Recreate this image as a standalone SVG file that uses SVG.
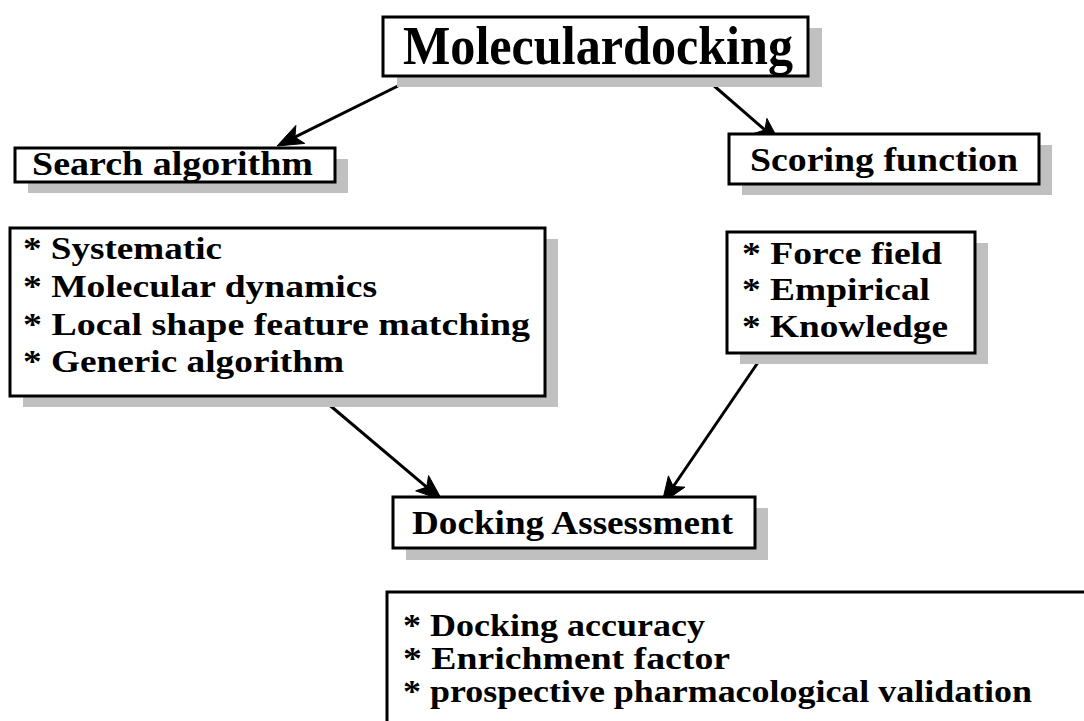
<svg xmlns="http://www.w3.org/2000/svg" width="1084" height="721" viewBox="0 0 1084 721">
<style>
.box{fill:#fff;stroke:#000;stroke-width:3}
.sh{fill:#c0c0c0}
.t{font-family:"Liberation Serif","Times New Roman",serif;font-weight:bold;fill:#000}
.c{stroke:#000;stroke-width:3;fill:none}
.h{fill:#000;stroke:#000;stroke-width:1;stroke-linejoin:miter}
</style>
<g id="connectors">
<line class="c" x1="410" y1="80" x2="294.9" y2="137.1"/>
<polygon class="h" points="277,146 295.85,125.49 294.91,137.11 304.73,143.41"/>
<line class="c" x1="705" y1="78" x2="764.9" y2="129.9"/>
<polygon class="h" points="780,143 753.80,133.53 764.89,129.90 766.90,118.41"/>
<line class="c" x1="320" y1="397" x2="426.7" y2="487.1"/>
<polygon class="h" points="442,500 415.68,490.87 426.72,487.10 428.58,475.59"/>
<line class="c" x1="761" y1="358" x2="673.3" y2="486.5"/>
<polygon class="h" points="662,503 668.40,475.89 673.28,486.48 684.92,487.17"/>
</g>
<g id="molecular-docking">
<rect class="sh" x="397" y="28" width="425" height="59"/>
<rect class="box" x="383" y="17" width="425" height="59"/>
<text class="t" x="403" y="64" font-size="54" textLength="390" lengthAdjust="spacingAndGlyphs">Moleculardocking</text>
</g>
<g id="search-algorithm">
<rect class="sh" x="28" y="159" width="320" height="34"/>
<rect class="box" x="15" y="148" width="320" height="34"/>
<text class="t" x="32" y="175" font-size="34" textLength="281" lengthAdjust="spacingAndGlyphs">Search algorithm</text>
</g>
<g id="scoring-function">
<rect class="sh" x="742" y="145" width="310" height="50"/>
<rect class="box" x="729" y="134" width="310" height="50"/>
<text class="t" x="750" y="171" font-size="34" textLength="268" lengthAdjust="spacingAndGlyphs">Scoring function</text>
</g>
<g id="search-methods">
<rect class="sh" x="23" y="239" width="535" height="168"/>
<rect class="box" x="10" y="228" width="535" height="168"/>
<text class="t" x="23" y="259" font-size="32" textLength="199" lengthAdjust="spacingAndGlyphs">* Systematic</text>
<text class="t" x="23" y="297" font-size="32" textLength="354" lengthAdjust="spacingAndGlyphs">* Molecular dynamics</text>
<text class="t" x="23" y="335" font-size="32" textLength="507" lengthAdjust="spacingAndGlyphs">* Local shape feature matching</text>
<text class="t" x="23" y="372" font-size="32" textLength="321" lengthAdjust="spacingAndGlyphs">* Generic algorithm</text>
</g>
<g id="scoring-methods">
<rect class="sh" x="740" y="243" width="248" height="121"/>
<rect class="box" x="727" y="232" width="248" height="121"/>
<text class="t" x="742" y="264" font-size="32" textLength="200" lengthAdjust="spacingAndGlyphs">* Force field</text>
<text class="t" x="742" y="300" font-size="32" textLength="188" lengthAdjust="spacingAndGlyphs">* Empirical</text>
<text class="t" x="742" y="337" font-size="32" textLength="206" lengthAdjust="spacingAndGlyphs">* Knowledge</text>
</g>
<g id="docking-assessment">
<rect class="sh" x="406" y="508" width="362" height="52"/>
<rect class="box" x="393" y="497" width="362" height="51"/>
<text class="t" x="412" y="534" font-size="34" textLength="321" lengthAdjust="spacingAndGlyphs">Docking Assessment</text>
</g>
<g id="assessment-methods">
<rect class="box" x="387" y="592" width="720" height="160"/>
<text class="t" x="403" y="636" font-size="32" textLength="302" lengthAdjust="spacingAndGlyphs">* Docking accuracy</text>
<text class="t" x="403" y="669" font-size="32" textLength="327" lengthAdjust="spacingAndGlyphs">* Enrichment factor</text>
<text class="t" x="403" y="702" font-size="32" textLength="629" lengthAdjust="spacingAndGlyphs">* prospective pharmacological validation</text>
</g>
</svg>
